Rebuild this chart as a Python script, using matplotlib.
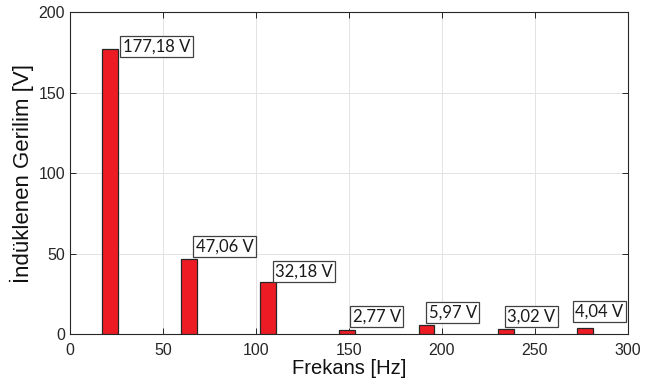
import matplotlib
matplotlib.use('Agg')
import matplotlib.pyplot as plt

plt.rcParams['font.family'] = ['Liberation Sans', 'DejaVu Sans']

freq = [21.3, 63.9, 106.5, 149.1, 191.7, 234.3, 276.9]
volts = [177.18, 47.06, 32.18, 2.77, 5.97, 3.02, 4.04]

# label box offsets from (bar centre, bar top), pixels
lbl_dx = [10.6, 4.5, 4.5, 2.7, -0.4, -1.0, -12.5]
lbl_dy = [-7.7, 1.8, 0.5, 3.1, 2.0, 2.1, 5.8]

fig = plt.figure(figsize=(6.45, 3.9), dpi=100)
ax = fig.add_axes([0.1085, 0.1428, 0.8651, 0.8257])

ax.bar(freq, volts, width=8.5, color='#ed1c24', edgecolor='#262626',
       linewidth=0.9, zorder=3)

fs = 12
pad = 0.15 * fs * 100 / 72
for f, v, dx, dy in zip(freq, volts, lbl_dx, lbl_dy):
    txt = f'{v:.2f}'.replace('.', ',') + ' V'
    ax.annotate(txt, (f, v), xytext=(dx + pad, dy + pad),
                textcoords='offset pixels', ha='left', va='bottom',
                fontsize=fs, family=['Lato', 'DejaVu Sans'], color='#1a1a1a',
                zorder=5,
                bbox=dict(boxstyle='square,pad=0.15', fc='white',
                          ec='#404040', lw=0.9))

ax.set_xlim(0, 300)
ax.set_ylim(0, 200)
ax.set_xticks([0, 50, 100, 150, 200, 250, 300])
ax.set_yticks([0, 50, 100, 150, 200])
ax.grid(True, color='#e3e3e3', linewidth=0.7, zorder=0)
ax.tick_params(direction='in', top=True, right=True, length=4,
               width=0.7, labelsize=11.5, labelcolor='#262626', color='#262626')
ax.tick_params(axis='x', pad=6)
for s in ax.spines.values():
    s.set_color('#262626')
    s.set_linewidth(0.8)

ax.set_xlabel('Frekans [Hz]', fontsize=14.5, color='#111111', labelpad=1)
ax.set_ylabel('İndüklenen Gerilim [V]', fontsize=16, color='#111111',
              labelpad=3)

fig.savefig('out.png', dpi=100)
